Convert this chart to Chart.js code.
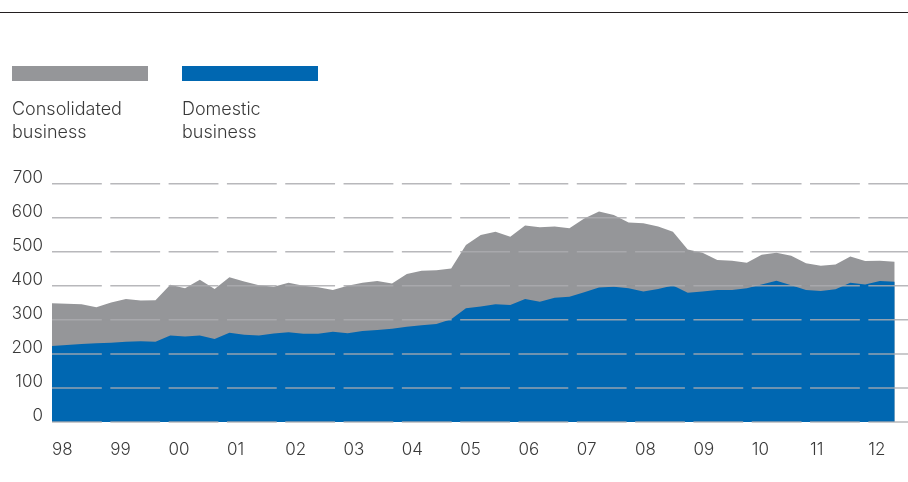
<!DOCTYPE html>
<html>
<head>
<meta charset="utf-8">
<title>Consolidated and domestic business</title>
<script src="https://cdn.jsdelivr.net/npm/chart.js@4.4.0/dist/chart.umd.min.js"></script>
<style>
    html, body { margin: 0; padding: 0; background: #fff; }
    body {
        width: 908px;
        height: 482px;
        position: relative;
        overflow: hidden;
        font-family: Inter, "Liberation Sans", sans-serif;
    }
    .rule {
        position: absolute;
        left: 0;
        top: 12px;
        width: 908px;
        border-top: 1.5px solid #231f20;
    }
    #chartWrap {
        position: absolute;
        left: 0;
        top: 0;
        width: 908px;
        height: 482px;
    }
    .legend-item { position: absolute; top: 66px; }
    .swatch { width: 136px; height: 15px; }
    .legend-label {
        margin-top: 17px;
        font-size: 18px;
        line-height: 22.5px;
        font-weight: 300;
        color: #3a3a3a;
    }
</style>
</head>
<body>
<div class="rule"></div>
<div id="chartWrap"><canvas id="businessChart" width="908" height="482"></canvas></div>
<div class="legend-item" style="left:12px">
    <div class="swatch" style="background:#959699"></div>
    <div class="legend-label">Consolidated<br>business</div>
</div>
<div class="legend-item" style="left:182px">
    <div class="swatch" style="background:#0067b1"></div>
    <div class="legend-label">Domestic<br>business</div>
</div>

<script>
// Quarterly values, Q1 1998 onwards
const consolidated = [
    349, 347, 346, 337, 351, 361, 357, 358, 403, 393, 418, 391, 425, 413, 402,
    397, 409, 400, 396, 388, 400, 409, 414, 407, 435, 444, 446, 451, 520, 549,
    559, 544, 577, 572, 574, 569, 598, 618, 608, 586, 584, 574, 559, 507, 497,
    476, 474, 468, 491, 497, 488, 466, 459, 463, 486, 473, 474, 471
];
const domestic = [
    223, 226, 229, 231, 233, 236, 237, 236, 254, 251, 254, 244, 262, 256, 254,
    260, 264, 259, 259, 265, 261, 267, 270, 274, 280, 284, 288, 302, 334, 339,
    346, 344, 361, 353, 365, 368, 381, 395, 397, 393, 383, 391, 401, 380, 383,
    388, 388, 393, 404, 415, 402, 388, 385, 390, 409, 404, 414, 412
];
const yearLabels = ['98', '99', '00', '01', '02', '03', '04', '05', '06', '07', '08', '09', '10', '11', '12'];
const yTicks = [0, 100, 200, 300, 400, 500, 600, 700];

const GRAY = '#959699';
const BLUE = '#0067b1';
const TEXT = '#3a3a3a';
const tickFont = { family: 'Inter, "Liberation Sans", sans-serif', size: 17, weight: 300 };

const toPoints = values => values.map((v, i) => ({ x: i, y: v }));

// horizontal grid, broken into one segment per year, drawn over the areas
const yearGrid = {
    id: 'yearGrid',
    afterDatasetsDraw(chart) {
        const { ctx, chartArea, scales } = chart;
        const period = scales.years.getPixelForValue(1) - scales.years.getPixelForValue(0);
        const gap = 8.5;
        ctx.save();
        ctx.beginPath();
        ctx.rect(chartArea.left, 0, chartArea.right - chartArea.left, chart.height);
        ctx.clip();
        ctx.strokeStyle = 'rgba(172, 172, 175, 0.85)';
        ctx.lineWidth = 1.5;
        ctx.setLineDash([period - gap, gap]);
        yTicks.forEach(v => {
            const y = scales.y.getPixelForValue(v);
            ctx.beginPath();
            ctx.moveTo(chartArea.left, y);
            ctx.lineTo(chartArea.right, y);
            ctx.stroke();
        });
        ctx.restore();
    }
};

new Chart(document.getElementById('businessChart'), {
    type: 'line',
    data: {
        datasets: [
            {
                label: 'Domestic business',
                data: toPoints(domestic),
                backgroundColor: BLUE,
                borderWidth: 0,
                pointRadius: 0,
                fill: 'origin',
                tension: 0
            },
            {
                label: 'Consolidated business',
                data: toPoints(consolidated),
                backgroundColor: GRAY,
                borderWidth: 0,
                pointRadius: 0,
                fill: 'origin',
                tension: 0
            }
        ]
    },
    options: {
        responsive: false,
        animation: false,
        layout: { padding: { top: 183.7, left: 0, right: 0, bottom: 0 } },
        scales: {
            x: {
                type: 'linear',
                min: 0,
                max: 57.9,
                display: false
            },
            years: {
                type: 'linear',
                axis: 'x',
                position: 'bottom',
                min: 0,
                max: 14.68,
                grid: { display: false, drawTicks: false },
                border: { display: false },
                afterBuildTicks: scale => {
                    scale.ticks = yearLabels.map((_, k) => ({ value: k }));
                },
                afterFit: scale => { scale.height = 60; },
                ticks: {
                    align: 'start',
                    autoSkip: false,
                    maxRotation: 0,
                    padding: 18,
                    color: TEXT,
                    font: tickFont,
                    callback: value => yearLabels[value]
                }
            },
            y: {
                type: 'linear',
                min: 0,
                max: 700,
                grid: { display: false, drawTicks: false },
                border: { display: false },
                afterBuildTicks: scale => {
                    scale.ticks = yTicks.map(v => ({ value: v }));
                },
                afterFit: scale => { scale.width = 52; },
                ticks: {
                    padding: 9,
                    labelOffset: -6,
                    color: TEXT,
                    font: tickFont
                }
            }
        },
        plugins: {
            legend: { display: false },
            tooltip: { enabled: false }
        }
    },
    plugins: [yearGrid]
});
</script>
</body>
</html>
